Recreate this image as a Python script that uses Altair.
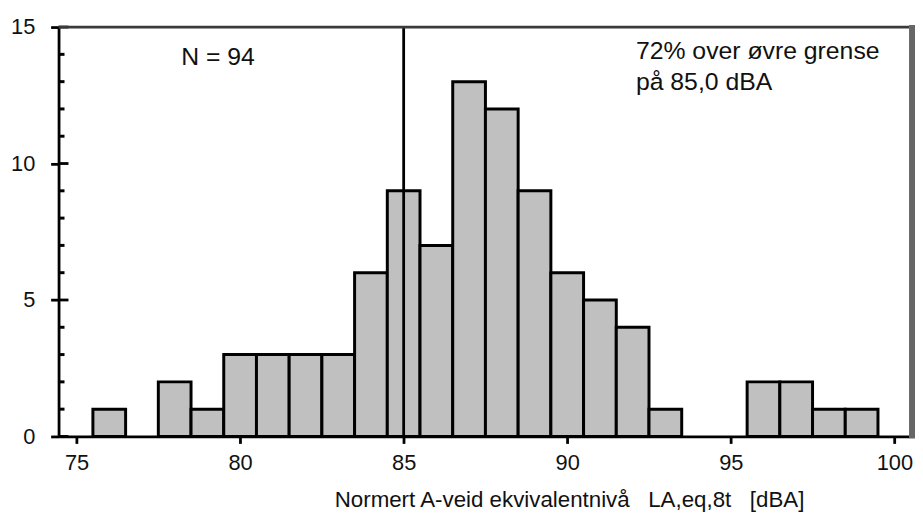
import altair as alt
import pandas as pd

# ---- data ----
centers = [76, 77, 78, 79, 80, 81, 82, 83, 84, 85, 86, 87, 88, 89, 90, 91, 92, 93, 94, 95, 96, 97, 98, 99]
counts = [1, 0, 2, 1, 3, 3, 3, 3, 6, 9, 7, 13, 12, 9, 6, 5, 4, 1, 0, 0, 2, 2, 1, 1]
x_ticks = [75, 80, 85, 90, 95, 100]
y_major = [0, 5, 10, 15]
y_minor = [1, 2, 3, 4, 6, 7, 8, 9, 11, 12, 13, 14]
limit = [85.0]
top_line = [15]
ann_text = ["N = 94", "72% over øvre grense", "på 85,0 dBA"]
ann_x = [78.2, 92.1, 92.1]
ann_y = [13.62, 13.84, 12.7]

FONT = "Liberation Sans"
W, H = 858, 413

xscale = alt.Scale(domain=[74.45, 100.45], nice=False, zero=False)
yscale = alt.Scale(domain=[0, 15], nice=False, padding=0)

hist = pd.DataFrame({"center": centers, "count": counts})

bars = (
    alt.Chart(hist)
    .transform_filter("datum['count'] > 0")
    .transform_calculate(x0="datum.center - 0.5", x1="datum.center + 0.5")
    .mark_bar(fill="#c0c0c0", stroke="#000000", strokeWidth=3)
    .encode(
        x=alt.X(
            "x0:Q",
            scale=xscale,
            axis=alt.Axis(
                values=x_ticks,
                grid=False,
                tickSize=7,
                tickWidth=2.8,
                tickColor="#000000",
                domainColor="#000000",
                domainWidth=2.8,
                labelFontSize=22,
                labelPadding=9,
                labelColor="#111111",
                labelFlush=False,
                title="Normert A-veid ekvivalentnivå\u00a0\u00a0\u00a0LA,eq,8t\u00a0\u00a0\u00a0[dBA]",
                titleFontSize=22.5,
                titleFontWeight="normal",
                titleColor="#111111",
                titleX=515,
                titleY=71,
                titleAlign="center",
                titleBaseline="alphabetic",
            ),
        ),
        x2="x1:Q",
        y=alt.Y(
            "count:Q",
            scale=yscale,
            axis=alt.Axis(
                values=y_major,
                grid=False,
                tickSize=8,
                tickWidth=2.8,
                tickColor="#000000",
                domainColor="#000000",
                domainWidth=2.8,
                labelFontSize=22,
                labelPadding=16,
                labelColor="#111111",
                labelFlush=False,
                title=None,
            ),
        ),
        y2=alt.datum(0),
    )
)

inner_major = (
    alt.Chart(pd.DataFrame({"v": y_major}))
    .mark_rule(color="#000000", strokeWidth=2.8)
    .encode(y=alt.Y("v:Q", scale=yscale), x=alt.value(0), x2=alt.value(10))
)
inner_minor = (
    alt.Chart(pd.DataFrame({"v": y_minor}))
    .mark_rule(color="#000000", strokeWidth=3)
    .encode(y=alt.Y("v:Q", scale=yscale), x=alt.value(0), x2=alt.value(6))
)

limit_rule = (
    alt.Chart(pd.DataFrame({"limit": limit}))
    .mark_rule(color="#000000", strokeWidth=2.8)
    .encode(x=alt.X("limit:Q", scale=xscale))
)

top_rule = (
    alt.Chart(pd.DataFrame({"top": top_line}))
    .mark_rule(color="#3a3a3a", strokeWidth=2.8)
    .encode(y=alt.Y("top:Q", scale=yscale))
)

right_band = (
    alt.Chart(pd.DataFrame({"top": top_line}))
    .mark_rule(color="#666666", strokeWidth=6)
    .encode(x=alt.value(W + 3), y=alt.value(-2), y2=alt.value(H + 2))
)

ann = pd.DataFrame({"text": ann_text, "x": ann_x, "y": ann_y})
labels = (
    alt.Chart(ann)
    .mark_text(align="left", baseline="alphabetic", fontSize=25, font=FONT, color="#111111")
    .encode(
        x=alt.X("x:Q", scale=xscale),
        y=alt.Y("y:Q", scale=yscale),
        text="text:N",
    )
)

chart = (
    alt.layer(bars, limit_rule, inner_major, inner_minor, top_rule, right_band, labels)
    .properties(
        width=W,
        height=H,
        padding={"left": 51, "top": 17, "right": 6, "bottom": 75},
        autosize=alt.AutoSizeParams(type="none"),
        background="#ffffff",
    )
    .configure_view(stroke=None)
    .configure_axis(labelFont=FONT, titleFont=FONT)
)

chart.save("out.html", embed_options={"renderer": "svg", "actions": False})
